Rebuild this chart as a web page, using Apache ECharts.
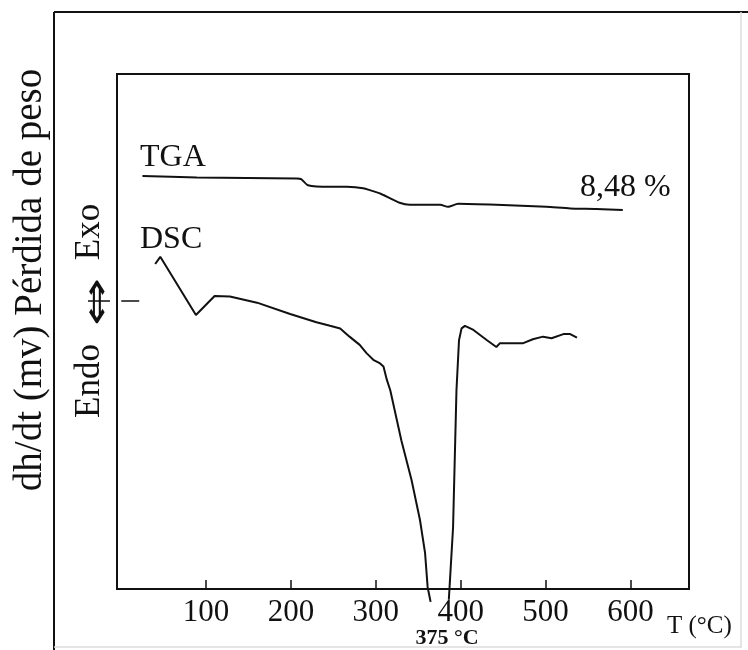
<!DOCTYPE html>
<html>
<head>
    <meta charset="utf-8">
    <title>TGA / DSC</title>
    <script src="https://cdn.jsdelivr.net/npm/echarts@6/dist/echarts.min.js"></script>
    <style type="text/css">
        html, body {
            margin: 0;
            padding: 0;
            background: #fff;
        }
        #main {
            width: 748px;
            height: 650px;
        }
    </style>
</head>
<body>
<div id="main"></div>
<script type="text/javascript">
    // temperatura (°C) y señal relativa (0-100, sin escala en el original)
    var tgaT = [25, 89, 207, 212, 220, 246, 266, 285, 305, 309, 328, 340, 376, 385, 397, 442, 501, 529, 560, 591];
    var tgaV = [80.2, 79.9, 79.7, 79.6, 78.4, 78.1, 78.1, 77.8, 76.8, 76.5, 75.0, 74.6, 74.6, 74.2, 74.8, 74.6, 74.2, 73.9, 73.8, 73.6];

    // DSC, rama antes del pico endotérmico
    var dscT1 = [40, 46, 88, 110, 128, 160, 199, 230, 246, 258, 269, 281, 289, 297, 305, 309, 313, 317, 330, 342, 352, 358, 361, 364.5];
    var dscV1 = [63.1, 64.5, 53.2, 56.9, 56.8, 55.6, 53.4, 51.8, 51.1, 50.6, 49.0, 47.4, 45.8, 44.5, 43.8, 43.2, 40.6, 38.6, 28.9, 21.2, 13.4, 7.0, 0.4, -2.5];
    // DSC, rama después del pico
    var dscT2 = [386, 391, 395, 398, 401, 405, 415, 431, 442, 446, 473, 485, 497, 507, 521, 529, 537];
    var dscV2 = [-2.1, 12.0, 38.6, 48.3, 50.6, 51.1, 50.3, 48.3, 47.0, 47.7, 47.7, 48.5, 49.0, 48.7, 49.5, 49.5, 48.8];

    var xTicks = [100, 200, 300, 400, 500, 600];
    var baseLine = [55.9]; // marca de referencia Endo/Exo

    function pairs(xs, ys) {
        var out = [];
        for (var i = 0; i < xs.length; i++) {
            out.push([xs[i], ys[i]]);
        }
        return out;
    }

    var serif = 'Liberation Serif';
    var ink = '#111';

    var lineStyle = {color: ink, width: 2};

    var option = {
        animation: false,
        backgroundColor: '#fff',
        grid: {
            left: 117,
            right: 59,
            top: 74,
            bottom: 61,
            outerBoundsMode: 'none',
            containLabel: false,
            show: true,
            borderColor: ink,
            borderWidth: 2,
            backgroundColor: 'transparent'
        },
        xAxis: {
            type: 'value',
            min: -5,
            max: 669,
            axisLine: {show: false},
            splitLine: {show: false},
            axisTick: {
                show: true,
                inside: true,
                length: 9,
                customValues: xTicks,
                lineStyle: {color: ink, width: 1.5}
            },
            axisLabel: {
                customValues: xTicks,
                margin: 8,
                fontFamily: serif,
                fontSize: 31,
                color: ink
            }
        },
        yAxis: {
            type: 'value',
            min: 0,
            max: 100,
            axisLine: {show: false},
            splitLine: {show: false},
            axisLabel: {show: false},
            axisTick: {
                show: true,
                inside: true,
                length: 18,
                customValues: baseLine,
                lineStyle: {color: ink, width: 1.5}
            }
        },
        series: [
            {
                name: 'TGA',
                type: 'line',
                data: pairs(tgaT, tgaV),
                symbol: 'none',
                smooth: 0.2,
                lineStyle: lineStyle
            },
            {
                name: 'DSC',
                type: 'line',
                data: pairs(dscT1, dscV1),
                symbol: 'none',
                clip: false,
                lineStyle: lineStyle
            },
            {
                name: 'DSC',
                type: 'line',
                data: pairs(dscT2, dscV2),
                symbol: 'none',
                clip: false,
                lineStyle: lineStyle
            }
        ],
        graphic: [
            // marco exterior
            {type: 'line', shape: {x1: 54, y1: 12, x2: 748, y2: 12}, style: {stroke: ink, lineWidth: 2}},
            {type: 'line', shape: {x1: 54, y1: 12, x2: 54, y2: 650}, style: {stroke: ink, lineWidth: 2}},
            {type: 'line', shape: {x1: 741, y1: 12, x2: 741, y2: 648}, style: {stroke: '#ddd', lineWidth: 1.5}},
            {type: 'line', shape: {x1: 54, y1: 647, x2: 741, y2: 647}, style: {stroke: '#ddd', lineWidth: 1.5}},
            // título del eje vertical
            {
                type: 'text', x: 31, y: 280, rotation: Math.PI / 2,
                style: {text: 'dh/dt (mv) Pérdida de peso', font: '39px ' + serif, fill: ink, align: 'center', verticalAlign: 'middle'}
            },
            // Endo / Exo
            {
                type: 'text', x: 90, y: 232, rotation: Math.PI / 2,
                style: {text: 'Exo', font: '35px ' + serif, fill: ink, align: 'center', verticalAlign: 'middle'}
            },
            {
                type: 'text', x: 90, y: 381, rotation: Math.PI / 2,
                style: {text: 'Endo', font: '35px ' + serif, fill: ink, align: 'center', verticalAlign: 'middle'}
            },
            {
                type: 'text', x: 99, y: 302, rotation: Math.PI / 2, scaleX: 1.6, scaleY: 1,
                style: {text: '⇔', font: '36px DejaVu Sans', fill: ink, align: 'center', verticalAlign: 'middle'}
            },
            {type: 'line', shape: {x1: 88, y1: 301, x2: 110, y2: 301}, style: {stroke: ink, lineWidth: 1.5}},
            // rótulos
            {
                type: 'text', x: 140, y: 158,
                style: {text: 'TGA', font: '32px ' + serif, fill: ink, align: 'left', verticalAlign: 'middle'}
            },
            {
                type: 'text', x: 140, y: 240,
                style: {text: 'DSC', font: '32px ' + serif, fill: ink, align: 'left', verticalAlign: 'middle'}
            },
            {
                type: 'text', x: 580, y: 188,
                style: {text: '8,48 %', font: '32px ' + serif, fill: ink, align: 'left', verticalAlign: 'middle'}
            },
            {
                type: 'text', x: 667, y: 626,
                style: {text: 'T (°C)', font: '25px ' + serif, fill: ink, align: 'left', verticalAlign: 'middle'}
            },
            {
                type: 'text', x: 447, y: 638,
                style: {text: '375 °C', font: 'bold 22px ' + serif, fill: ink, align: 'center', verticalAlign: 'middle'}
            }
        ]
    };

    var myChart = echarts.init(document.getElementById('main'), null, {renderer: 'canvas'});
    myChart.setOption(option);
</script>
</body>
</html>
